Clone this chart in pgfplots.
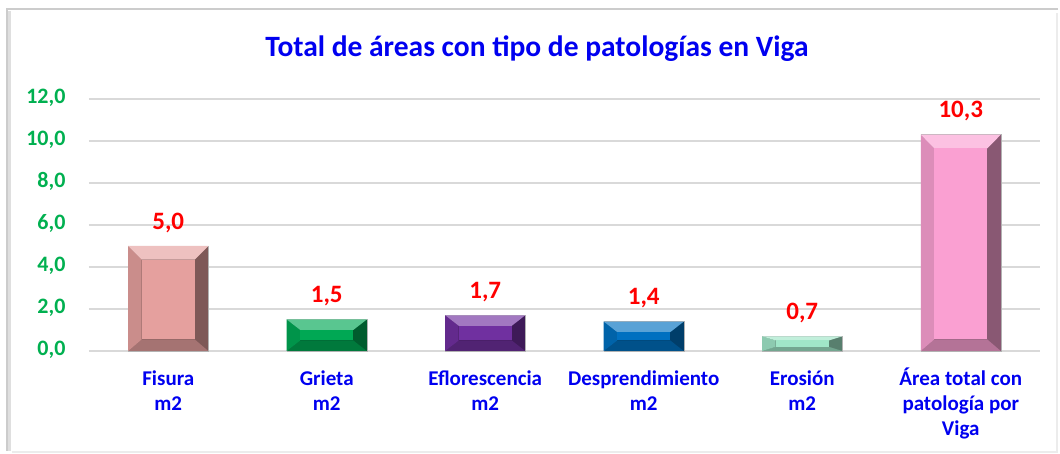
\documentclass[border=0pt]{standalone}
\usepackage{pgfplots}
\pgfplotsset{compat=1.18}
\usepackage{fontspec}
\setmainfont{Carlito}
\definecolor{ttlblue}{RGB}{0,0,240}
\definecolor{tickgreen}{RGB}{0,176,80}
\definecolor{c1}{RGB}{229,160,158}
\definecolor{c2}{RGB}{0,168,84}
\definecolor{c3}{RGB}{112,48,160}
\definecolor{c4}{RGB}{0,112,192}
\definecolor{c5}{RGB}{160,230,200}
\definecolor{c6}{RGB}{250,160,210}
\pgfplotsset{
  mybar/.style={ybar, bar width=80pt, bar shift=0pt, fill=#1!55!black, draw=gray!60, line width=0.5pt,
    nodes near coords,
    every node near coord/.append style={text=red, font=\bfseries\fontsize{25}{27}\selectfont, yshift=10pt}},
  bevtop/.style={fill=#1!65!white, draw=none},
  bevleft/.style={fill=#1!88!black, draw=none},
  bevbot/.style={fill=#1!72!black, draw=none},
  bevin/.style={fill=#1, draw=none},
}
\begin{document}
\begin{tikzpicture}
\path[fill=white] (0pt,0pt) rectangle (1060pt,453pt);
% frame with shadow
\draw[gray!25,line width=4pt] (9pt,2pt) -- (9pt,442pt);
\draw[gray!40,line width=1.2pt] (7pt,2pt) -- (7pt,444pt) -- (1058pt,444pt);
\draw[gray!15,line width=2pt] (1057pt,0pt) -- (1057pt,440pt);
\draw[gray!15,line width=2pt] (12pt,1pt) -- (1058pt,1pt);
\node[font=\bfseries\fontsize{29.5}{31}\selectfont,text=ttlblue,anchor=base] at (537pt,396pt) {Total de áreas con tipo de patologías en Viga};
\begin{axis}[
  at={(89pt,102pt)}, anchor=south west,
  scale only axis, width=951pt, height=252pt,
  xmin=-0.5, xmax=5.5, ymin=0, ymax=12,
  ytick={0,2,...,12},
  xtick={0,1,2,3,4,5},
  xticklabels={Fisura\\m2, Grieta\\m2, Eflorescencia\\m2, Desprendimiento\\m2, Erosión\\m2, Área total con\\patología por\\Viga},
  typeset ticklabels with strut,
  xticklabel style={align=center, text=ttlblue, font=\bfseries\fontsize{21}{25}\selectfont, anchor=north, yshift=-13pt},
  yticklabel style={text=tickgreen, font=\bfseries\fontsize{22}{24}\selectfont, xshift=-20pt},
  /pgf/number format/.cd, use comma, fixed, fixed zerofill, precision=1, assume math mode=true,
  /pgfplots/.cd,
  ymajorgrids, grid style={gray!30, line width=1.5pt},
  axis line style={draw=none},
  major tick length=0pt,
  clip=false,
]
% Fisura 5.0
\addplot[mybar=c1] coordinates {(0,5.0)};
\addplot[bevbot=c1] coordinates {(-0.2524,0) (0.2524,0) (0.1674,0.55) (-0.1674,0.55)} -- cycle;
\addplot[bevleft=c1] coordinates {(-0.2524,0) (-0.2524,5.0) (-0.1674,4.35) (-0.1674,0.55)} -- cycle;
\addplot[bevtop=c1] coordinates {(-0.2524,5.0) (0.2524,5.0) (0.1674,4.35) (-0.1674,4.35)} -- cycle;
\addplot[bevin=c1] coordinates {(-0.1674,0.55) (0.1674,0.55) (0.1674,4.35) (-0.1674,4.35)} -- cycle;
% Grieta 1.5
\addplot[mybar=c2] coordinates {(1,1.5)};
\addplot[bevbot=c2] coordinates {(0.7476,0) (1.2524,0) (1.1674,0.5) (0.8326,0.5)} -- cycle;
\addplot[bevleft=c2] coordinates {(0.7476,0) (0.7476,1.5) (0.8326,1.0) (0.8326,0.5)} -- cycle;
\addplot[bevtop=c2] coordinates {(0.7476,1.5) (1.2524,1.5) (1.1674,1.0) (0.8326,1.0)} -- cycle;
\addplot[bevin=c2] coordinates {(0.8326,0.5) (1.1674,0.5) (1.1674,1.0) (0.8326,1.0)} -- cycle;
% Eflorescencia 1.7
\addplot[mybar=c3] coordinates {(2,1.7)};
\addplot[bevbot=c3] coordinates {(1.7476,0) (2.2524,0) (2.1674,0.5) (1.8326,0.5)} -- cycle;
\addplot[bevleft=c3] coordinates {(1.7476,0) (1.7476,1.7) (1.8326,1.2) (1.8326,0.5)} -- cycle;
\addplot[bevtop=c3] coordinates {(1.7476,1.7) (2.2524,1.7) (2.1674,1.2) (1.8326,1.2)} -- cycle;
\addplot[bevin=c3] coordinates {(1.8326,0.5) (2.1674,0.5) (2.1674,1.2) (1.8326,1.2)} -- cycle;
% Desprendimiento 1.4
\addplot[mybar=c4] coordinates {(3,1.4)};
\addplot[bevbot=c4] coordinates {(2.7476,0) (3.2524,0) (3.1674,0.5) (2.8326,0.5)} -- cycle;
\addplot[bevleft=c4] coordinates {(2.7476,0) (2.7476,1.4) (2.8326,0.9) (2.8326,0.5)} -- cycle;
\addplot[bevtop=c4] coordinates {(2.7476,1.4) (3.2524,1.4) (3.1674,0.9) (2.8326,0.9)} -- cycle;
\addplot[bevin=c4] coordinates {(2.8326,0.5) (3.1674,0.5) (3.1674,0.9) (2.8326,0.9)} -- cycle;
% Erosion 0.7
\addplot[mybar=c5] coordinates {(4,0.7)};
\addplot[bevbot=c5] coordinates {(3.7476,0) (4.2524,0) (4.1674,0.2) (3.8326,0.2)} -- cycle;
\addplot[bevleft=c5] coordinates {(3.7476,0) (3.7476,0.7) (3.8326,0.5) (3.8326,0.2)} -- cycle;
\addplot[bevtop=c5] coordinates {(3.7476,0.7) (4.2524,0.7) (4.1674,0.5) (3.8326,0.5)} -- cycle;
\addplot[bevin=c5] coordinates {(3.8326,0.2) (4.1674,0.2) (4.1674,0.5) (3.8326,0.5)} -- cycle;
% Area total 10.3
\addplot[mybar=c6] coordinates {(5,10.3)};
\addplot[bevbot=c6] coordinates {(4.7476,0) (5.2524,0) (5.1674,0.55) (4.8326,0.55)} -- cycle;
\addplot[bevleft=c6] coordinates {(4.7476,0) (4.7476,10.3) (4.8326,9.65) (4.8326,0.55)} -- cycle;
\addplot[bevtop=c6] coordinates {(4.7476,10.3) (5.2524,10.3) (5.1674,9.65) (4.8326,9.65)} -- cycle;
\addplot[bevin=c6] coordinates {(4.8326,0.55) (5.1674,0.55) (5.1674,9.65) (4.8326,9.65)} -- cycle;
\end{axis}
\end{tikzpicture}
\end{document}
